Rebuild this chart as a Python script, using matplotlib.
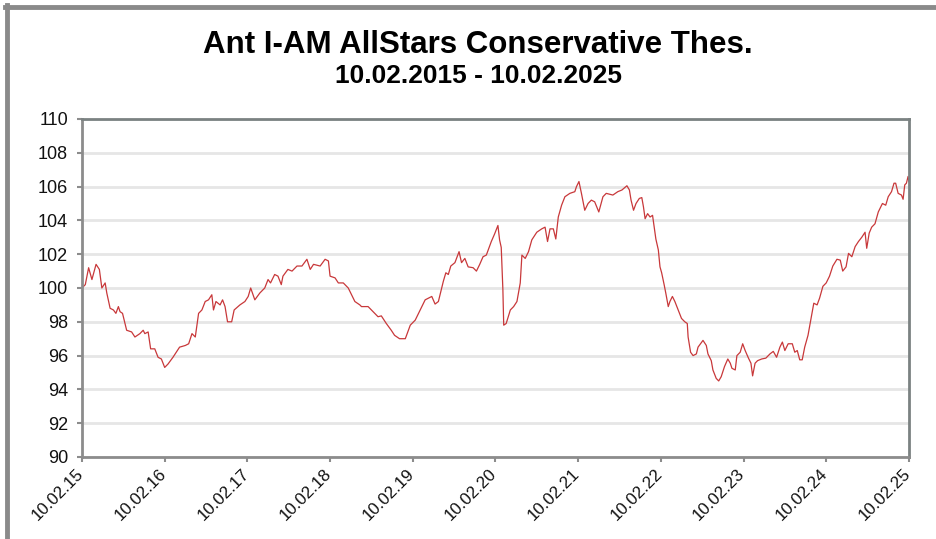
import pandas as pd
import matplotlib
matplotlib.use("Agg")
import matplotlib.pyplot as plt
import matplotlib.dates as mdates
from matplotlib.lines import Line2D
from matplotlib.transforms import ScaledTranslation

plt.rcParams["font.family"] = ["Liberation Sans", "DejaVu Sans"]

# Zeitpunkte (Dezimaljahre) und Kurswerte
years = [
    2015.11, 2015.15, 2015.19, 2015.23, 2015.28, 2015.32, 2015.35, 2015.39, 2015.41, 2015.45,
    2015.49, 2015.52, 2015.55, 2015.57, 2015.60, 2015.65, 2015.71, 2015.75, 2015.81, 2015.85,
    2015.87, 2015.91, 2015.94, 2015.99, 2016.03, 2016.07, 2016.11, 2016.15, 2016.21, 2016.29,
    2016.36, 2016.40, 2016.44, 2016.48, 2016.52, 2016.56, 2016.60, 2016.64, 2016.68, 2016.70,
    2016.73, 2016.78, 2016.81, 2016.84, 2016.87, 2016.92, 2016.95, 2017.02, 2017.08, 2017.12,
    2017.15, 2017.20, 2017.26, 2017.32, 2017.36, 2017.39, 2017.44, 2017.48, 2017.52, 2017.54,
    2017.60, 2017.65, 2017.71, 2017.77, 2017.83, 2017.87, 2017.91, 2017.99, 2018.05, 2018.09,
    2018.11, 2018.17, 2018.21, 2018.27, 2018.33, 2018.41, 2018.47, 2018.49, 2018.57, 2018.63,
    2018.69, 2018.73, 2018.79, 2018.85, 2018.89, 2018.95, 2019.02, 2019.08, 2019.14, 2019.20,
    2019.26, 2019.34, 2019.38, 2019.42, 2019.48, 2019.51, 2019.54, 2019.57, 2019.62, 2019.67,
    2019.70, 2019.74, 2019.78, 2019.84, 2019.88, 2019.92, 2019.96, 2020.00, 2020.06, 2020.10,
    2020.14, 2020.16, 2020.18, 2020.20, 2020.21, 2020.24, 2020.29, 2020.33, 2020.37, 2020.41,
    2020.43, 2020.47, 2020.51, 2020.55, 2020.61, 2020.67, 2020.71, 2020.74, 2020.77, 2020.81,
    2020.84, 2020.87, 2020.91, 2020.95, 2021.01, 2021.07, 2021.09, 2021.12, 2021.15, 2021.19,
    2021.23, 2021.27, 2021.31, 2021.36, 2021.41, 2021.45, 2021.53, 2021.59, 2021.64, 2021.70,
    2021.73, 2021.75, 2021.78, 2021.81, 2021.85, 2021.88, 2021.90, 2021.92, 2021.95, 2021.98,
    2022.01, 2022.03, 2022.05, 2022.08, 2022.10, 2022.12, 2022.15, 2022.17, 2022.20, 2022.22,
    2022.25, 2022.28, 2022.32, 2022.36, 2022.40, 2022.43, 2022.44, 2022.47, 2022.50, 2022.54,
    2022.56, 2022.59, 2022.62, 2022.66, 2022.68, 2022.72, 2022.74, 2022.78, 2022.81, 2022.84,
    2022.88, 2022.92, 2022.95, 2022.97, 2023.01, 2023.03, 2023.07, 2023.10, 2023.13, 2023.17,
    2023.20, 2023.22, 2023.25, 2023.28, 2023.33, 2023.38, 2023.43, 2023.47, 2023.51, 2023.55,
    2023.58, 2023.61, 2023.65, 2023.70, 2023.73, 2023.76, 2023.79, 2023.82, 2023.85, 2023.89,
    2023.93, 2023.96, 2024.00, 2024.03, 2024.07, 2024.11, 2024.15, 2024.19, 2024.24, 2024.28,
    2024.31, 2024.35, 2024.38, 2024.42, 2024.46, 2024.50, 2024.54, 2024.58, 2024.60, 2024.63,
    2024.66, 2024.70, 2024.74, 2024.79, 2024.83, 2024.86, 2024.90, 2024.93, 2024.95, 2024.98,
    2025.02, 2025.04, 2025.06, 2025.08, 2025.10, 2025.11,
]
values = [
    100.0, 100.2, 101.2, 100.5, 101.4, 101.1, 100.0, 100.3, 99.7, 98.8,
    98.7, 98.5, 98.9, 98.6, 98.5, 97.5, 97.4, 97.1, 97.3, 97.5,
    97.3, 97.4, 96.4, 96.4, 95.9, 95.8, 95.3, 95.5, 95.9, 96.5,
    96.6, 96.7, 97.3, 97.1, 98.5, 98.7, 99.2, 99.3, 99.6, 98.7,
    99.2, 99.0, 99.3, 98.9, 98.0, 98.0, 98.7, 99.0, 99.2, 99.5,
    100.0, 99.3, 99.7, 100.0, 100.5, 100.3, 100.8, 100.7, 100.2, 100.7,
    101.1, 101.0, 101.3, 101.3, 101.7, 101.1, 101.4, 101.3, 101.7, 101.6,
    100.7, 100.6, 100.3, 100.3, 100.0, 99.2, 99.0, 98.9, 98.9, 98.6,
    98.3, 98.35, 97.9, 97.5, 97.2, 97.0, 97.0, 97.8, 98.1, 98.7,
    99.3, 99.5, 99.05, 99.2, 100.4, 100.9, 100.8, 101.3, 101.5, 102.15,
    101.5, 101.75, 101.25, 101.2, 101.0, 101.4, 101.85, 101.95, 102.75, 103.2,
    103.7, 102.85, 102.4, 99.9, 97.8, 97.9, 98.7, 98.9, 99.2, 100.3,
    101.95, 101.75, 102.15, 102.85, 103.3, 103.5, 103.6, 102.75, 103.5, 103.5,
    102.9, 104.2, 104.9, 105.4, 105.6, 105.7, 106.0, 106.3, 105.6, 104.6,
    105.0, 105.2, 105.1, 104.5, 105.4, 105.6, 105.5, 105.7, 105.8, 106.05,
    105.8, 105.2, 104.6, 105.0, 105.3, 105.35, 104.8, 104.1, 104.4, 104.2,
    104.3, 103.6, 102.9, 102.25, 101.25, 100.9, 100.2, 99.7, 98.9, 99.2,
    99.5, 99.2, 98.7, 98.2, 98.0, 97.9, 97.1, 96.2, 96.0, 96.1,
    96.5, 96.7, 96.9, 96.6, 96.1, 95.7, 95.15, 94.65, 94.5, 94.75,
    95.35, 95.8, 95.55, 95.25, 95.15, 96.0, 96.2, 96.7, 96.3, 95.85,
    95.55, 94.8, 95.55, 95.7, 95.8, 95.85, 96.1, 96.25, 95.9, 96.5,
    96.8, 96.3, 96.7, 96.7, 96.2, 96.3, 95.75, 95.75, 96.5, 97.2,
    98.3, 99.1, 99.0, 99.4, 100.1, 100.3, 100.7, 101.3, 101.7, 101.65,
    101.0, 101.25, 102.05, 101.85, 102.45, 102.75, 103.0, 103.3, 102.35, 103.25,
    103.6, 103.8, 104.5, 105.0, 104.9, 105.4, 105.7, 106.2, 106.2, 105.6,
    105.5, 105.25, 106.1, 106.2, 106.6, 106.3,
]

tick_dates = ["2015-02-10", "2016-02-10", "2017-02-10", "2018-02-10", "2019-02-10", "2020-02-10",
              "2021-02-10", "2022-02-10", "2023-02-10", "2024-02-10", "2025-02-10"]
y_ticks = [90, 92, 94, 96, 98, 100, 102, 104, 106, 108, 110]

start = pd.Timestamp("2015-02-10")
dates = [start + pd.Timedelta(days=(y - 2015.11) * 365.25) for y in years]
ticks = pd.to_datetime(tick_dates)

fig = plt.figure(figsize=(9.36, 5.39), dpi=100)
ax = fig.add_axes([82 / 936, 1 - 457 / 539, 827 / 936, 338 / 539])

ax.plot(dates, values, color="#c8383a", linewidth=0.9)

ax.set_xlim(ticks[0], ticks[-1])
ax.set_ylim(90, 110)
ax.set_yticks(y_ticks)
ax.set_xticks(ticks)
ax.xaxis.set_major_formatter(mdates.DateFormatter("%d.%m.%y"))

ax.tick_params(axis="both", color="#8c8c8c", width=1.5, length=3.6,
               labelcolor="#111111", direction="out")
ax.tick_params(axis="y", pad=6.5, labelsize=13)
ax.tick_params(axis="x", pad=7, labelsize=12.2)

shift = ScaledTranslation(-1 / 100, 0, fig.dpi_scale_trans)
for lab in ax.get_xticklabels():
    lab.set_rotation(45)
    lab.set_ha("right")
    lab.set_va("center")
    lab.set_rotation_mode("anchor")
    lab.set_transform(lab.get_transform() + shift)

ax.grid(axis="y", color="#e6e6e6", linewidth=2)
ax.set_axisbelow(True)

for side in ["left", "bottom"]:
    ax.spines[side].set_color("#8c8c8c")
    ax.spines[side].set_linewidth(2)
for side in ["top", "right"]:
    ax.spines[side].set_color("#7b8282")
    ax.spines[side].set_linewidth(2)

fig.text(0.51, 1 - 45 / 539, "Ant I-AM AllStars Conservative Thes.", ha="center", va="center",
         fontsize=22.5, weight="bold")
fig.text(0.511, 1 - 76 / 539, "10.02.2015 - 10.02.2025", ha="center", va="center",
         fontsize=19, weight="bold")

# grauer Rahmen (oben und links, Rest abgeschnitten)
fig.add_artist(Line2D([5 / 936, 1], [1 - 7 / 539, 1 - 7 / 539], transform=fig.transFigure,
                      color="#8a8a8a", linewidth=3.5))
fig.add_artist(Line2D([7 / 936, 7 / 936], [0, 1 - 5 / 539], transform=fig.transFigure,
                      color="#8a8a8a", linewidth=3.5))

plt.savefig("out.png", dpi=100)
print("OK")
